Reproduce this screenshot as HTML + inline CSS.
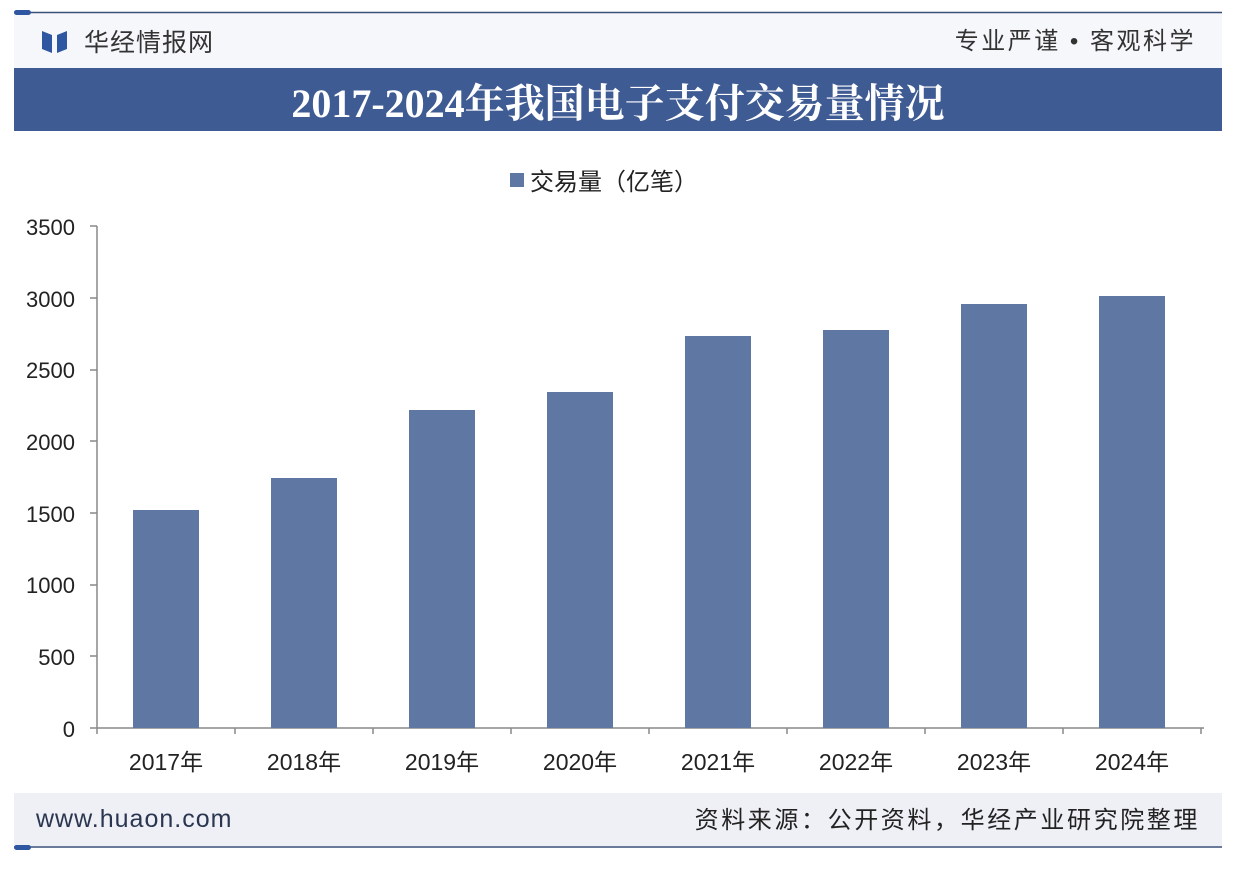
<!DOCTYPE html>
<html><head><meta charset="utf-8"><style>
body{margin:0;background:#fff;}
svg text{font-family:"Liberation Sans","Noto Sans CJK SC",sans-serif;}
</style></head><body>
<svg width="1238" height="864" viewBox="0 0 1238 864" xmlns="http://www.w3.org/2000/svg">
<rect width="1238" height="864" fill="#fff"/>
<rect x="14" y="13" width="1208" height="55" fill="#f6f7fb"/>
<line x1="14" y1="12.5" x2="1222" y2="12.5" stroke="#3a4f78" stroke-width="1.5"/>
<rect x="14" y="10" width="17" height="5" rx="2.5" fill="#2f56a0"/>
<path d="M42 31 L52 35 L52 53 L42 49 Z M67 31 L57 35 L57 53 L67 49 Z" fill="#2f56a0"/>
<text x="84" y="51" font-size="25" fill="#333" letter-spacing="1">华经情报网</text>
<text x="1196" y="49" font-size="24" fill="#333" text-anchor="end" letter-spacing="2.5">专业严谨 • 客观科学</text>
<rect x="14" y="68" width="1208" height="63" fill="#3f5b93"/>
<text x="618" y="117" font-size="40" font-weight="bold" fill="#fff" text-anchor="middle" style="font-family:'Liberation Serif','Noto Serif CJK SC',serif">2017-2024年我国电子支付交易量情况</text>
<rect x="510" y="173" width="14" height="14" fill="#5f77a3"/>
<text x="530" y="190" font-size="24" fill="#222">交易量（亿笔）</text>
<g font-size="22" fill="#222" text-anchor="end">
<text x="75" y="235">3500</text><text x="75" y="307">3000</text><text x="75" y="378">2500</text>
<text x="75" y="450">2000</text><text x="75" y="522">1500</text><text x="75" y="593">1000</text>
<text x="75" y="665">500</text><text x="75" y="737">0</text>
</g>
<g stroke="#888" stroke-width="1.5">
<line x1="97" y1="226" x2="97" y2="728"/>
<line x1="90" y1="728" x2="1204" y2="728"/>
<line x1="90" y1="226" x2="97" y2="226"/><line x1="90" y1="298" x2="97" y2="298"/>
<line x1="90" y1="370" x2="97" y2="370"/><line x1="90" y1="441" x2="97" y2="441"/>
<line x1="90" y1="513" x2="97" y2="513"/><line x1="90" y1="585" x2="97" y2="585"/>
<line x1="90" y1="656" x2="97" y2="656"/>
<line x1="97" y1="728" x2="97" y2="734"/><line x1="235" y1="728" x2="235" y2="734"/>
<line x1="373" y1="728" x2="373" y2="734"/><line x1="511" y1="728" x2="511" y2="734"/>
<line x1="649" y1="728" x2="649" y2="734"/><line x1="787" y1="728" x2="787" y2="734"/>
<line x1="925" y1="728" x2="925" y2="734"/><line x1="1063" y1="728" x2="1063" y2="734"/>
<line x1="1201" y1="728" x2="1201" y2="734"/>
</g>
<g fill="#5f77a3">
<rect x="133" y="510" width="66" height="218"/>
<rect x="271" y="478" width="66" height="250"/>
<rect x="409" y="410" width="66" height="318"/>
<rect x="547" y="392" width="66" height="336"/>
<rect x="685" y="336" width="66" height="392"/>
<rect x="823" y="330" width="66" height="398"/>
<rect x="961" y="304" width="66" height="424"/>
<rect x="1099" y="296" width="66" height="432"/>
</g>
<g font-size="23" fill="#222" text-anchor="middle">
<text x="166" y="770">2017年</text><text x="304" y="770">2018年</text>
<text x="442" y="770">2019年</text><text x="580" y="770">2020年</text>
<text x="718" y="770">2021年</text><text x="856" y="770">2022年</text>
<text x="994" y="770">2023年</text><text x="1132" y="770">2024年</text>
</g>
<rect x="14" y="793" width="1208" height="53" fill="#eef0f6"/>
<line x1="14" y1="847" x2="1222" y2="847" stroke="#3a4f78" stroke-width="1.5"/>
<rect x="14" y="845" width="17" height="5" rx="2.5" fill="#2f56a0"/>
<text x="36" y="827" font-size="25" fill="#2a3550" letter-spacing="1">www.huaon.com</text>
<text x="1200" y="828" font-size="24" fill="#222" text-anchor="end" letter-spacing="2.6">资料来源：公开资料，华经产业研究院整理</text>
</svg>
</body></html>
